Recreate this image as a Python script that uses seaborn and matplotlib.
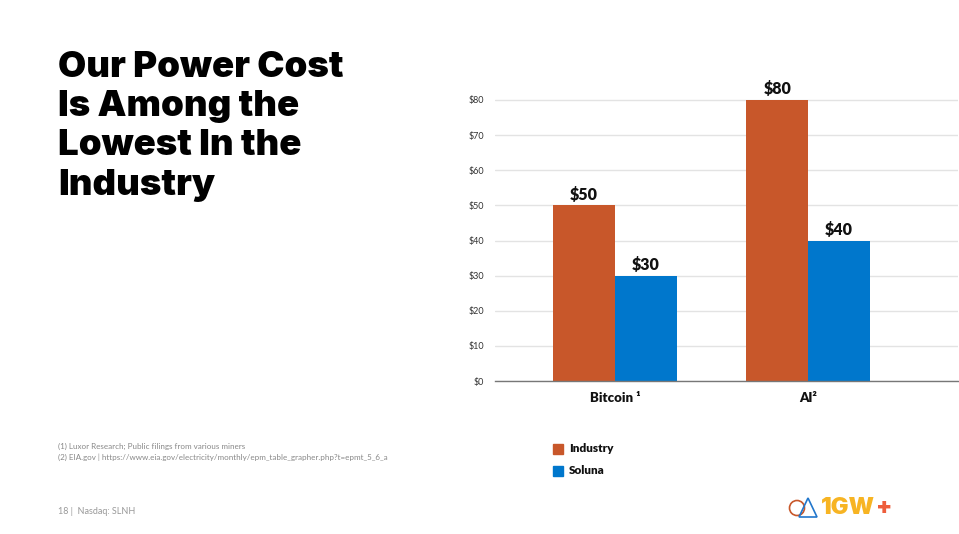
import matplotlib
matplotlib.use("Agg")
import matplotlib.pyplot as plt
from matplotlib import font_manager as fm
import seaborn as sns
import pandas as pd
from matplotlib.patches import Ellipse, Polygon, Rectangle

categories = ["Bitcoin \u00b9", "AI\u00b2"]
series_names = ["Industry", "Soluna"]
industry_values = [50, 80]
soluna_values = [30, 40]
y_ticks = [0, 10, 20, 30, 40, 50, 60, 70, 80]
colors = ["#C8572A", "#0077CC"]

rows = []
for c, i, s in zip(categories, industry_values, soluna_values):
    rows.append({"cat": c, "series": "Industry", "val": i})
    rows.append({"cat": c, "series": "Soluna", "val": s})
df = pd.DataFrame(rows)

# find a heavy font family
heavy_family = "Lato"
heavy_weight = "black"
found = {}
for f in fm.fontManager.ttflist:
    w = f.weight if isinstance(f.weight, int) else fm.weight_dict.get(f.weight, 400)
    if f.style == "normal" and w >= 800:
        found.setdefault(f.name, w)
for cand in ["Inter", "Roboto", "Lato", "Open Sans", "Noto Sans"]:
    if cand in found:
        heavy_family = cand
        heavy_weight = found[cand]
        break

sns.set_theme(style="white")
plt.rcParams["font.family"] = ["Lato", "DejaVu Sans"]

fig = plt.figure(figsize=(9.59, 5.34), dpi=100)
fig.patch.set_facecolor("white")
ax = fig.add_axes([495/959, (534-381)/534, 463/959, 291/534])

sns.barplot(data=df, x="cat", y="val", hue="series", palette=colors,
            width=0.64, ax=ax, legend=False, saturation=1, linewidth=0)

ax.set_ylim(0, 80*291/281)
ax.set_xlim(-0.622, 1.777)
ax.set_yticks(y_ticks)
ax.set_yticklabels([f"${v}" for v in y_ticks], fontsize=6.5, color="#333333")
ax.yaxis.grid(True, color="#E3E3E3", linewidth=1)
ax.set_axisbelow(True)
for sp in ["top", "right", "left"]:
    ax.spines[sp].set_visible(False)
ax.spines["bottom"].set_color("#777777")
ax.spines["bottom"].set_linewidth(1)
ax.tick_params(axis="y", length=0, pad=8)
ax.tick_params(axis="x", length=0, pad=8)
for lbl in ax.get_xticklabels():
    lbl.set_fontsize(9.5)
    lbl.set_fontweight("heavy")
    lbl.set_color("#111111")
ax.set_xlabel("")
ax.set_ylabel("")

for cont in ax.containers:
    ax.bar_label(cont, labels=[f"${v:.0f}" for v in cont.datavalues],
                 padding=2, fontsize=11.5, fontweight="heavy", color="#111111")

# Title
fig.text(58/959, 1-51/534, "Our Power Cost\nIs Among the\nLowest In the\nIndustry",
         fontsize=26.3, fontweight=heavy_weight, family=[heavy_family, "DejaVu Sans"],
         color="#000000", va="top", ha="left", linespacing=1.24)

# Legend
for name, col, y in zip(series_names, colors, [449, 471]):
    fig.patches.append(Rectangle((553/959, 1-(y+5)/534), 10/959, 10/534,
                                 transform=fig.transFigure, color=col))
    fig.text(569/959, 1-y/534, name, fontsize=8.5, fontweight="heavy",
             color="#111111", va="center", ha="left")

# Footnotes
fig.text(58/959, 1-446/534, "(1) Luxor Research; Public filings from various miners",
         fontsize=5.8, color="#888888", va="center")
fig.text(58/959, 1-457/534,
         "(2) EIA.gov | https://www.eia.gov/electricity/monthly/epm_table_grapher.php?t=epmt_5_6_a",
         fontsize=5.8, color="#888888", va="center")
fig.text(58/959, 1-512/534, "18 |  Nasdaq: SLNH", fontsize=6.5, color="#999999",
         va="center")

# Logo
fig.patches.append(Ellipse((797/959, 1-508/534), 15/959, 15/534, transform=fig.transFigure,
                           fill=False, edgecolor="#C8572A", linewidth=1.2))
fig.patches.append(Polygon([(799/959, 1-517/534), (817/959, 1-517/534),
                            (808/959, 1-498/534)], closed=True,
                           transform=fig.transFigure, fill=False,
                           edgecolor="#2277CC", linewidth=1.2))
t1 = fig.text(821/959, 1-508/534, "1GW", fontsize=17, fontweight=heavy_weight,
              family=[heavy_family, "DejaVu Sans"], color="#F7B423",
              va="center", ha="left")
fig.canvas.draw()
bb = t1.get_window_extent(renderer=fig.canvas.get_renderer())
fig.text((bb.x1 + 0.5)/959, 1-508/534, "+", fontsize=17, fontweight=heavy_weight,
         family=[heavy_family, "DejaVu Sans"], color="#EE5E3C",
         va="center", ha="left")

fig.savefig("out.png", dpi=100, facecolor="white")
